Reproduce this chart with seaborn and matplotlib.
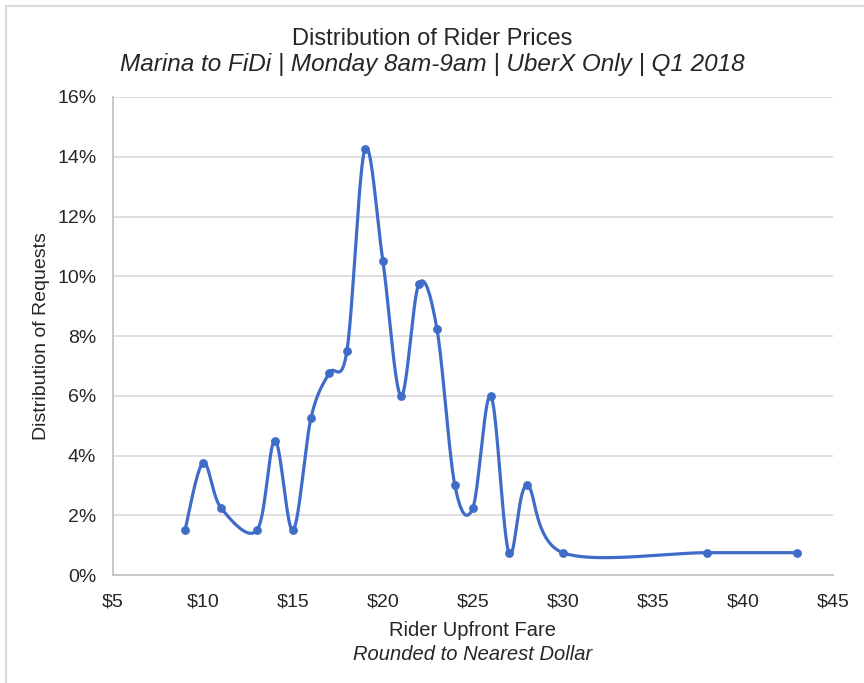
import numpy as np
import pandas as pd
import seaborn as sns
import matplotlib.pyplot as plt
from matplotlib.ticker import FuncFormatter
from matplotlib.patches import Rectangle

# fares (rounded dollars) and share of requests (%)
fare = [9, 10, 11, 13, 14, 15, 16, 17, 18, 19, 20, 21, 22, 23, 24, 25, 26, 27, 28, 30, 38, 43]
share = [1.5, 3.75, 2.25, 1.5, 4.5, 1.5, 5.25, 6.75, 7.5, 14.25, 10.5, 6.0, 9.75, 8.25,
         3.0, 2.25, 6.0, 0.75, 3.0, 0.75, 0.75, 0.75]
xticks = [5, 10, 15, 20, 25, 30, 35, 40, 45]
yticks = [0, 2, 4, 6, 8, 10, 12, 14, 16]

blue = '#3f6cc9'
txt = '#262626'


def smooth(xs, ys, n=40):
    # excel-like smoothed line: cubic bezier with catmull-rom control points
    p = np.column_stack([xs, ys]).astype(float)
    out = []
    for i in range(len(p) - 1):
        p0 = p[i - 1] if i > 0 else p[i]
        p3 = p[i + 2] if i + 2 < len(p) else p[i + 1]
        c1 = p[i] + (p[i + 1] - p0) / 6
        c2 = p[i + 1] - (p3 - p[i]) / 6
        t = np.linspace(0, 1, n)[:, None]
        seg = ((1 - t) ** 3) * p[i] + 3 * ((1 - t) ** 2) * t * c1 + 3 * (1 - t) * t ** 2 * c2 + t ** 3 * p[i + 1]
        out.append(seg if i == 0 else seg[1:])
    out = np.vstack(out)
    return pd.DataFrame({'x': out[:, 0], 'y': out[:, 1], 'o': np.arange(len(out))})


sns.set_style('white')
plt.rcParams['font.family'] = ['Liberation Sans', 'DejaVu Sans']

fig = plt.figure(figsize=(8.64, 6.83), dpi=100)
ax = fig.add_axes([0.1308, 0.158, 0.833, 0.700])

df = pd.DataFrame({'fare': fare, 'share': share})
curve = smooth(fare, share)
sns.lineplot(data=curve, x='x', y='y', sort=False, estimator=None, color=blue, lw=2.3, ax=ax)
sns.scatterplot(data=df, x='fare', y='share', color=blue, s=34, edgecolor=blue, zorder=3, ax=ax)

ax.set_xlim(5, 45)
ax.set_ylim(0, 16)
ax.set_xticks(xticks)
ax.set_yticks(yticks)
ax.xaxis.set_major_formatter(FuncFormatter(lambda v, p: '$%d' % v))
ax.yaxis.set_major_formatter(FuncFormatter(lambda v, p: '%d%%' % v))
ax.tick_params(axis='both', labelsize=14, colors=txt, length=0)
ax.tick_params(axis='y', pad=12)
ax.tick_params(axis='x', pad=13)
ax.grid(axis='y', color='#dcdcdc', lw=1.3)
ax.set_axisbelow(True)
for s in ['top', 'right']:
    ax.spines[s].set_visible(False)
for s in ['left', 'bottom']:
    ax.spines[s].set_color('#c4c4c4')
    ax.spines[s].set_linewidth(1.3)

ax.set_xlabel('')
ax.set_ylabel('Distribution of Requests', fontsize=14, color=txt, labelpad=5)

fig.text(0.5, 0.943, 'Distribution of Rider Prices', ha='center', va='center', fontsize=17, color=txt)
fig.text(0.5, 0.905, 'Marina to FiDi | Monday 8am-9am | UberX Only | Q1 2018', ha='center', va='center',
         fontsize=17.5, style='italic', color=txt)
xc = 0.1308 + 0.833 / 2
fig.text(xc, 1 - 630 / 683, 'Rider Upfront Fare', ha='center', va='center', fontsize=14.5, color=txt)
fig.text(xc, 1 - 654 / 683, 'Rounded to Nearest Dollar', ha='center', va='center', fontsize=14.5,
         style='italic', color=txt)

fig.patches.append(Rectangle((6 / 864, -0.05), 1.0, 1.05 - 6 / 683, transform=fig.transFigure, fill=False,
                             edgecolor='#dadada', lw=1.5))

fig.savefig('out.png', dpi=100)
